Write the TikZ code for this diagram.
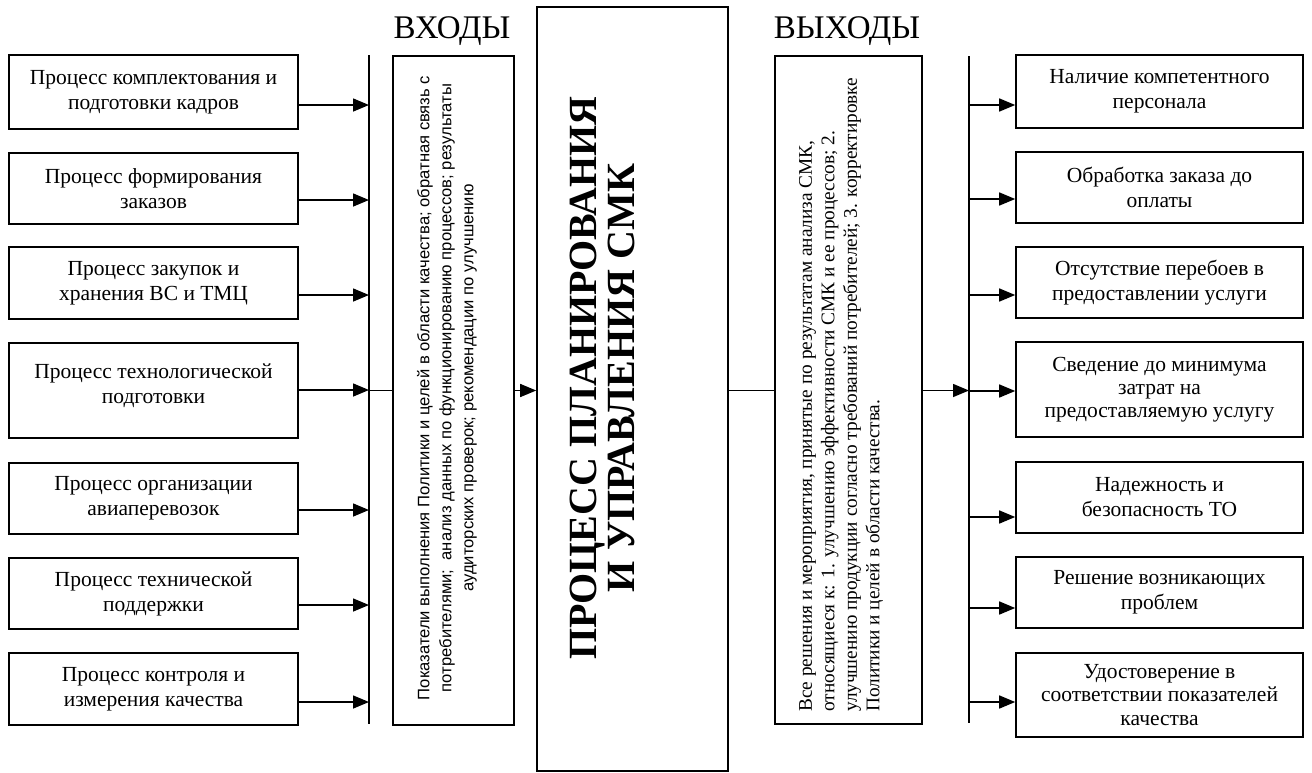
\documentclass[tikz,border=0pt]{standalone}
\usepackage{fontspec}
\setmainfont{Liberation Serif}
\newfontfamily\sansf{Liberation Sans}
\usetikzlibrary{arrows.meta}
\begin{document}
\begin{tikzpicture}[x=1pt,y=-1pt,
  box/.style={draw, line width=1.6pt, inner sep=0pt, align=center, font=\fontsize{21.5}{25}\selectfont},
  bigbox/.style={draw, line width=1.6pt, inner sep=0pt},
  arr/.style={line width=1.5pt, -{Triangle[length=16pt,width=13pt]}},
  ln/.style={line width=1.5pt},
  title/.style={font=\fontsize{33}{33}\selectfont, inner sep=0pt}]
\useasboundingbox (0,0) rectangle (1312,772);

% left boxes
\node[box, minimum width=289pt, minimum height=74pt] (L1) at (153.5,92) {Процесс комплектования и\\подготовки кадров};
\node[box, minimum width=289pt, minimum height=71pt] (L2) at (153.5,188.5) {Процесс формирования\\заказов};
\node[box, minimum width=289pt, minimum height=72pt] (L3) at (153.5,283) {Процесс закупок и\\хранения ВС и ТМЦ};
\node[box, minimum width=289pt, minimum height=95pt] (L4) at (153.5,390.5) {Процесс технологической\\подготовки\\[-11pt]};
\node[box, minimum width=289pt, minimum height=71pt] (L5) at (153.5,498.5) {Процесс организации\\авиаперевозок};
\node[box, minimum width=289pt, minimum height=71pt] (L6) at (153.5,593.5) {Процесс технической\\поддержки};
\node[box, minimum width=289pt, minimum height=72pt] (L7) at (153.5,689) {Процесс контроля и\\измерения качества};

% right boxes
\node[box, minimum width=287pt, minimum height=73pt] (R1) at (1159.5,91.5) {Наличие компетентного\\персонала};
\node[box, minimum width=287pt, minimum height=71pt] (R2) at (1159.5,187.5) {Обработка заказа до\\оплаты};
\node[box, minimum width=287pt, minimum height=71pt] (R3) at (1159.5,282.5) {Отсутствие перебоев в\\предоставлении услуги};
\node[box, minimum width=287pt, minimum height=95pt, font=\fontsize{21.5}{23}\selectfont] (R4) at (1159.5,389.5) {Сведение до минимума\\затрат на\\предоставляемую услугу};
\node[box, minimum width=287pt, minimum height=71pt] (R5) at (1159.5,497.5) {Надежность и\\безопасность ТО};
\node[box, minimum width=287pt, minimum height=71pt] (R6) at (1159.5,592.5) {Решение возникающих\\проблем};
\node[box, minimum width=287pt, minimum height=84pt, font=\fontsize{21.5}{23.5}\selectfont] (R7) at (1159.5,695) {Удостоверение в\\соответствии показателей\\качества};

% titles
\node[title] (tin) at (452,31) {ВХОДЫ};
\node[title] (tout) at (847,31) {ВЫХОДЫ};

% inputs box
\node[bigbox, minimum width=121pt, minimum height=669pt] (IN) at (453.5,390.5) {};
\node[rotate=90, align=center, inner sep=0pt, font=\sansf\fontsize{16.6}{22}\selectfont] (INt) at (447,388)
 {Показатели выполнения Политики и целей в области качества; обратная связь с\\
  потребителями;\ \ анализ данных по функционированию процессов; результаты\\
  аудиторских проверок; рекомендации по улучшению};

% central box
\node[bigbox, minimum width=191pt, minimum height=764pt] (CB) at (632.5,389) {};
\node[rotate=90, align=center, inner sep=0pt, font=\bfseries\fontsize{40}{38}\selectfont] (CBt) at (602,378)
 {ПРОЦЕСС ПЛАНИРОВАНИЯ\\И УПРАВЛЕНИЯ СМК};

% outputs box
\node[bigbox, minimum width=147pt, minimum height=668pt] (OUT) at (848.5,390) {};
\node[rotate=90, anchor=north west, align=left, inner sep=0pt, font=\fontsize{19.3}{22.5}\selectfont] (OUTt) at (799,712)
 {Все решения и мероприятия, принятые по результатам анализа СМК,\\
  относящиеся к: 1. улучшению эффективности СМК и ее процессов; 2.\\
  улучшению продукции согласно требований потребителей; 3. корректировке\\
  Политики и целей в области качества.};

% bars
\coordinate (bLt) at (369,55);
\coordinate (bLb) at (369,724);
\coordinate (bRt) at (969,56);
\coordinate (bRb) at (969,723);
\draw[ln] (bLt) -- (bLb);
\draw[ln] (bRt) -- (bRb);

% left arrows
\foreach \i/\y in {1/105,2/200,3/295,4/390,5/510,6/605,7/702}
  \draw[arr] (L\i.east |- 0,\y) -- (bLt |- 0,\y);

% right arrows
\foreach \i/\y in {1/105,2/199,3/295,4/391,5/517,6/608,7/702}
  \draw[arr] (bRt |- 0,\y) -- (R\i.west |- 0,\y);

% main flow
\draw[ln] (bLt |- IN.west) -- (IN.west);
\draw[arr] (IN.east) -- (CB.west |- IN.east);
\draw[ln] (CB.east |- IN.east) -- (OUT.west |- IN.east);
\draw[arr] (OUT.east |- IN.east) -- (bRt |- IN.east);
\end{tikzpicture}
\end{document}
